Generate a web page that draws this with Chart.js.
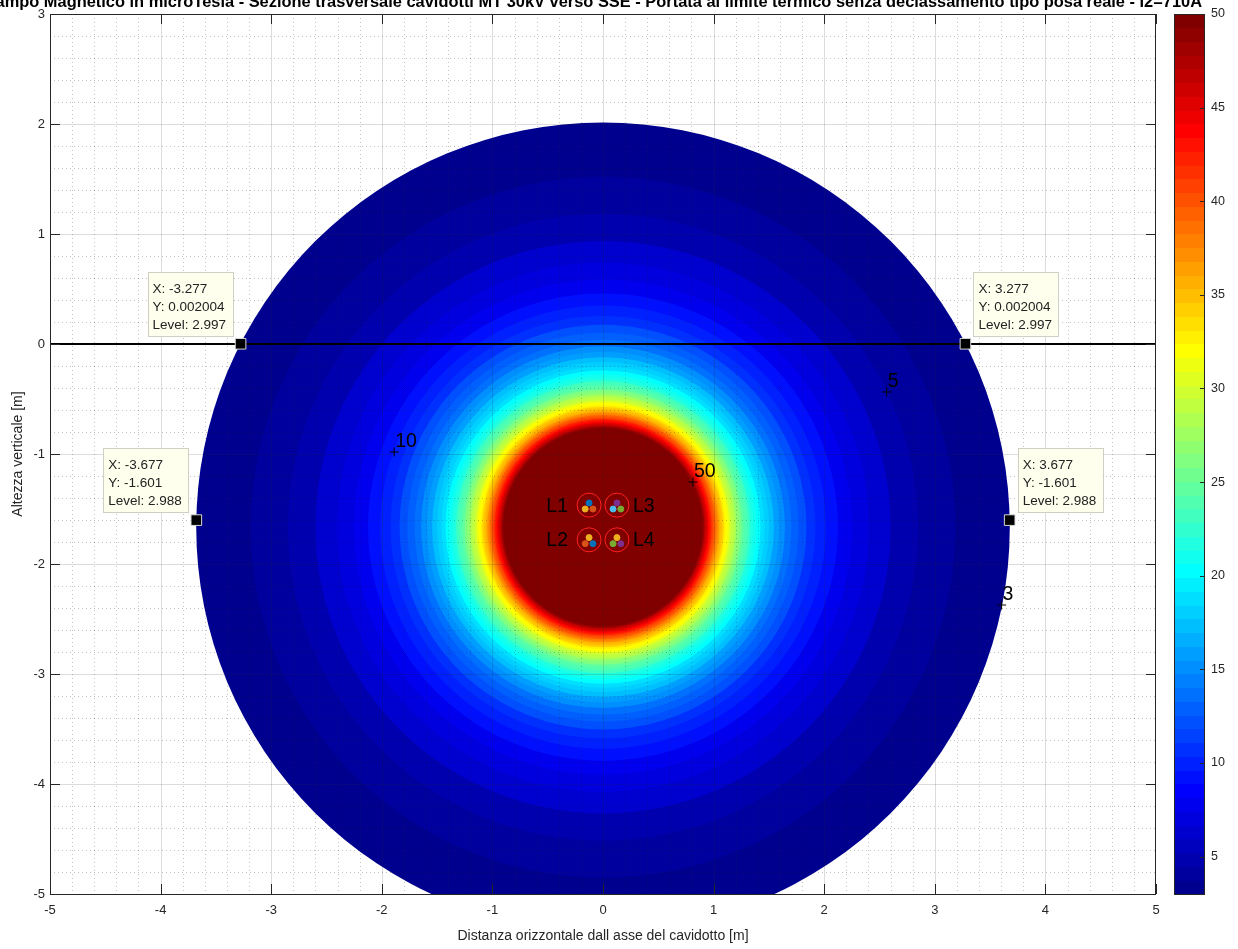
<!DOCTYPE html>
<html>
<head>
<meta charset="utf-8">
<script src="https://cdn.jsdelivr.net/npm/chart.js@4.4.1/dist/chart.umd.min.js"></script>
<style>
  html, body { margin: 0; padding: 0; background: #fff; overflow: hidden; }
  canvas { display: block; }
</style>
</head>
<body>
<canvas id="c" width="1238" height="949"></canvas>
<script>
// Filled contour levels of |B| (microtesla) and the radius (m) at which each level closes around the cable bundle
const levels = [3, 4, 5, 6, 7, 8, 9, 10, 11, 12, 13, 14, 15, 16, 17, 18, 19, 20, 21, 22, 23, 24, 25, 26,
  27, 28, 29, 30, 31, 32, 33, 34, 35, 36, 37, 38, 39, 40, 41, 42, 43, 44, 45, 46, 47, 48, 49, 50];
const levelRadius = [3.678, 3.185, 2.849, 2.601, 2.407, 2.252, 2.124, 2.014, 1.920, 1.839, 1.767, 1.703,
  1.645, 1.593, 1.545, 1.501, 1.461, 1.424, 1.390, 1.358, 1.328, 1.300, 1.274, 1.250,
  1.226, 1.204, 1.183, 1.163, 1.144, 1.126, 1.108, 1.092, 1.076, 1.061, 1.047, 1.033,
  1.020, 1.007, 0.995, 0.983, 0.971, 0.960, 0.950, 0.939, 0.929, 0.919, 0.910, 0.901];
const bundleCenterX = 0;
const bundleCenterY = -1.665;

// Axis ticks and colour scale
const xTicks = [-5, -4, -3, -2, -1, 0, 1, 2, 3, 4, 5];
const yTicks = [3, 2, 1, 0, -1, -2, -3, -4, -5];
const cbTicks = [5, 10, 15, 20, 25, 30, 35, 40, 45, 50];
const cbMin = 3;
const cbMax = 50;

// Cable circuits (centre of each trefoil) and the offsets of the three phase conductors
const cableNames = ['L1', 'L2', 'L3', 'L4'];
const cableX = [-0.126, -0.126, 0.126, 0.126];
const cableY = [-1.465, -1.78, -1.465, -1.78];
const phaseDX = [0, -0.035, 0.035];
const phaseDY = [0.02, -0.035, -0.035];

// Ground surface line
const groundX = [-5, 5];
const groundY = [0, 0];

// Data tips on the 3 uT contour
const tipX = [-3.277, 3.277, -3.677, 3.677];
const tipY = [0.002004, 0.002004, -1.601, -1.601];
const tipLevel = [2.997, 2.997, 2.988, 2.988];

// Contour labels
const contourLabelLevel = [10, 5, 50, 3];
const contourLabelX = [-1.888, 2.565, 0.813, 3.604];
const contourLabelY = [-0.982, -0.436, -1.255, -2.373];

const titleText = 'Campo Magnetico in microTesla - Sezione trasversale cavidotti MT 30kV verso SSE - Portata al limite termico senza declassamento tipo posa reale - I2=710A';
const xTitle = 'Distanza orizzontale dall asse del cavidotto [m]';
const yTitle = 'Altezza verticale [m]';

const FONT = '"Liberation Sans", Arial, Helvetica, sans-serif';
const AX = '#262626';
const NCOL = 64;
const phaseColors = [
  ['#0072BD', '#EDB120', '#D95319'],
  ['#EDB120', '#D95319', '#0072BD'],
  ['#7E2F8E', '#4DBEEE', '#77AC30'],
  ['#EDB120', '#77AC30', '#7E2F8E']
];

function jet(t) {
  const c = v => Math.round(255 * Math.min(1, Math.max(0, v)));
  return `rgb(${c(1.5 - Math.abs(4 * t - 3))},${c(1.5 - Math.abs(4 * t - 2))},${c(1.5 - Math.abs(4 * t - 1))})`;
}
function levelColor(v) {
  let idx = Math.floor((v - cbMin) / (cbMax - cbMin) * NCOL);
  idx = Math.min(NCOL - 1, Math.max(0, idx));
  return jet((idx + 1) / NCOL);
}

const conductorPts = [];
const conductorCols = [];
cableX.forEach((cx, i) => {
  phaseDX.forEach((dx, k) => {
    conductorPts.push({ x: cx + dx, y: cableY[i] + phaseDY[k] });
    conductorCols.push(phaseColors[i][k]);
  });
});

const contourPlugin = {
  id: 'contourFill',
  beforeDraw(chart) {
    const { ctx } = chart;
    ctx.save();
    ctx.fillStyle = '#fff';
    ctx.fillRect(0, 0, chart.width, chart.height);
    ctx.restore();
  },
  beforeDatasetsDraw(chart) {
    const { ctx, chartArea: a, scales: { x, y } } = chart;
    ctx.save();
    ctx.beginPath();
    ctx.rect(a.left, a.top, a.right - a.left, a.bottom - a.top);
    ctx.clip();
    const cx = x.getPixelForValue(bundleCenterX);
    const cy = y.getPixelForValue(bundleCenterY);
    levels.forEach((lv, i) => {
      const r = levelRadius[i];
      const rx = x.getPixelForValue(bundleCenterX + r) - cx;
      const ry = cy - y.getPixelForValue(bundleCenterY + r);
      ctx.beginPath();
      ctx.ellipse(cx, cy, rx, ry, 0, 0, Math.PI * 2);
      ctx.fillStyle = levelColor(lv);
      ctx.fill();
    });
    // minor dotted grid
    ctx.lineWidth = 1;
    ctx.setLineDash([1, 3]);
    ctx.strokeStyle = 'rgba(38,38,38,0.28)';
    for (let k = -25; k <= 25; k++) {
      if (k % 5 === 0) continue;
      const px = Math.round(x.getPixelForValue(k / 5)) + 0.5;
      ctx.beginPath(); ctx.moveTo(px, a.top); ctx.lineTo(px, a.bottom); ctx.stroke();
    }
    for (let k = -25; k <= 15; k++) {
      if (k % 5 === 0) continue;
      const py = Math.round(y.getPixelForValue(k / 5)) + 0.5;
      ctx.beginPath(); ctx.moveTo(a.left, py); ctx.lineTo(a.right, py); ctx.stroke();
    }
    // major grid
    ctx.setLineDash([]);
    ctx.strokeStyle = 'rgba(38,38,38,0.16)';
    xTicks.forEach(v => {
      const px = Math.round(x.getPixelForValue(v)) + 0.5;
      ctx.beginPath(); ctx.moveTo(px, a.top); ctx.lineTo(px, a.bottom); ctx.stroke();
    });
    yTicks.forEach(v => {
      const py = Math.round(y.getPixelForValue(v)) + 0.5;
      ctx.beginPath(); ctx.moveTo(a.left, py); ctx.lineTo(a.right, py); ctx.stroke();
    });
    ctx.restore();
  },
  afterDatasetsDraw(chart) {
    const { ctx, scales: { x, y } } = chart;
    ctx.save();
    // circuit names
    ctx.fillStyle = '#000';
    ctx.font = `19.5px ${FONT}`;
    ctx.textBaseline = 'middle';
    cableNames.forEach((name, i) => {
      const px = x.getPixelForValue(cableX[i]);
      const py = y.getPixelForValue(cableY[i]);
      if (cableX[i] < 0) { ctx.textAlign = 'right'; ctx.fillText(name, px - 21, py + 1); }
      else { ctx.textAlign = 'left'; ctx.fillText(name, px + 16, py + 1); }
    });
    // contour labels
    ctx.textAlign = 'left';
    ctx.textBaseline = 'alphabetic';
    contourLabelLevel.forEach((lv, i) => {
      const px = x.getPixelForValue(contourLabelX[i]);
      const py = y.getPixelForValue(contourLabelY[i]);
      ctx.fillText(String(lv), px + 1, py - 5);
    });
    // data tip boxes
    ctx.font = `13.5px ${FONT}`;
    tipX.forEach((vx, i) => {
      const px = x.getPixelForValue(vx);
      const py = y.getPixelForValue(tipY[i]);
      const lines = [`X: ${vx}`, `Y: ${tipY[i]}`, `Level: ${tipLevel[i]}`];
      const w = Math.ceil(Math.max(...lines.map(l => ctx.measureText(l).width))) + 11;
      const h = 64;
      const bx = vx < 0 ? px - 8 - w : px + 8;
      const by = py - 8 - h;
      ctx.fillStyle = '#ffffee';
      ctx.fillRect(bx, by, w, h);
      ctx.strokeStyle = '#cfcfc4';
      ctx.lineWidth = 1;
      ctx.strokeRect(Math.round(bx) + 0.5, Math.round(by) + 0.5, w, h);
      ctx.fillStyle = '#222';
      lines.forEach((l, k) => ctx.fillText(l, bx + 5, by + 21 + k * 18));
    });
    ctx.restore();
  },
  afterDraw(chart) {
    const { ctx, chartArea: a, scales: { x, y, cb } } = chart;
    ctx.save();
    // axes box and inward ticks
    ctx.strokeStyle = AX;
    ctx.lineWidth = 1;
    ctx.strokeRect(Math.round(a.left) + 0.5, Math.round(a.top) + 0.5, Math.round(a.right - a.left) - 1, Math.round(a.bottom - a.top));
    ctx.beginPath();
    xTicks.forEach(v => {
      const px = Math.round(x.getPixelForValue(v)) + 0.5;
      ctx.moveTo(px, a.bottom); ctx.lineTo(px, a.bottom - 10);
      ctx.moveTo(px, a.top); ctx.lineTo(px, a.top + 10);
    });
    yTicks.forEach(v => {
      const py = Math.round(y.getPixelForValue(v)) + 0.5;
      ctx.moveTo(a.left, py); ctx.lineTo(a.left + 10, py);
      ctx.moveTo(a.right, py); ctx.lineTo(a.right - 10, py);
    });
    ctx.stroke();

    // colour bar
    const cl = cb.left + 18, cr = cb.left + 49;
    for (let i = 0; i < NCOL; i++) {
      const v0 = cbMin + i * (cbMax - cbMin) / NCOL;
      const v1 = cbMin + (i + 1) * (cbMax - cbMin) / NCOL;
      const y0 = cb.getPixelForValue(v0), y1 = cb.getPixelForValue(v1);
      ctx.fillStyle = jet((i + 1) / NCOL);
      ctx.fillRect(cl, Math.floor(y1), cr - cl, Math.ceil(y0) - Math.floor(y1));
    }
    const ct = cb.getPixelForValue(cbMax), cbt = cb.getPixelForValue(cbMin);
    ctx.strokeStyle = AX;
    ctx.strokeRect(cl + 0.5, Math.round(ct) + 0.5, cr - cl - 1, Math.round(cbt - ct));
    ctx.beginPath();
    cbTicks.forEach(v => {
      const py = Math.round(cb.getPixelForValue(v)) + 0.5;
      ctx.moveTo(cr - 5, py); ctx.lineTo(cr, py);
    });
    ctx.stroke();

    // title (wider than the figure, right end beside the colour bar)
    ctx.font = `bold 16px ${FONT}`;
    const wTitle = ctx.measureText(titleText).width;
    const fs = 16 * 1220 / wTitle;
    ctx.font = `bold ${fs}px ${FONT}`;
    ctx.fillStyle = '#000';
    ctx.textAlign = 'right';
    ctx.textBaseline = 'alphabetic';
    ctx.fillText(titleText, cb.left + 46, 7);
    ctx.restore();
  }
};

new Chart(document.getElementById('c'), {
  type: 'scatter',
  data: {
    datasets: [
      {
        label: 'data tips',
        data: tipX.map((v, i) => ({ x: v, y: tipY[i] })),
        pointStyle: 'rect',
        pointRadius: 7.5,
        backgroundColor: '#000',
        borderColor: '#d8d8d8',
        borderWidth: 1
      },
      {
        label: 'contour label anchors',
        data: contourLabelX.map((v, i) => ({ x: v, y: contourLabelY[i] })),
        pointStyle: 'cross',
        pointRadius: 4.5,
        borderColor: '#000',
        borderWidth: 1
      },
      {
        label: 'conductors',
        data: conductorPts,
        pointStyle: 'circle',
        pointRadius: 3,
        backgroundColor: conductorCols,
        borderColor: conductorCols,
        borderWidth: 1
      },
      {
        label: 'circuits',
        data: cableX.map((v, i) => ({ x: v, y: cableY[i] })),
        pointStyle: 'circle',
        pointRadius: 12,
        backgroundColor: 'rgba(0,0,0,0)',
        borderColor: '#ff2020',
        borderWidth: 1
      },
      {
        type: 'line',
        label: 'ground',
        data: groundX.map((v, i) => ({ x: v, y: groundY[i] })),
        borderColor: '#000',
        borderWidth: 2,
        pointRadius: 0,
        fill: false
      }
    ]
  },
  options: {
    responsive: false,
    devicePixelRatio: 1,
    animation: false,
    events: [],
    layout: { padding: { top: 14, left: 0, right: 0, bottom: 0 } },
    plugins: { legend: { display: false }, tooltip: { enabled: false } },
    scales: {
      x: {
        type: 'linear', position: 'bottom', min: -5, max: 5,
        afterBuildTicks: s => { s.ticks = xTicks.map(v => ({ value: v })); },
        afterFit: s => { s.height = 55; },
        grid: { display: false, drawTicks: false },
        border: { display: false },
        ticks: { color: AX, font: { family: FONT, size: 13 }, padding: 9, maxRotation: 0, autoSkip: false },
        title: { display: true, text: xTitle, color: AX, font: { family: FONT, size: 14 }, padding: { top: 0, bottom: 4 } }
      },
      y: {
        type: 'linear', position: 'left', min: -5, max: 3,
        afterBuildTicks: s => { s.ticks = yTicks.map(v => ({ value: v })); },
        afterFit: s => { s.width = 50; },
        grid: { display: false, drawTicks: false },
        border: { display: false },
        ticks: { color: AX, font: { family: FONT, size: 13 }, padding: 5, autoSkip: false },
        title: { display: true, text: yTitle, color: AX, font: { family: FONT, size: 14 }, padding: { top: 10, bottom: 0 } }
      },
      cb: {
        type: 'linear', position: 'right', min: cbMin, max: cbMax,
        afterBuildTicks: s => { s.ticks = cbTicks.map(v => ({ value: v })); },
        afterFit: s => { s.width = 82; },
        grid: { display: false, drawTicks: true, tickLength: 52 },
        border: { display: false },
        ticks: { color: AX, font: { family: FONT, size: 12.5 }, padding: 3, autoSkip: false }
      }
    }
  },
  plugins: [contourPlugin]
});
</script>
</body>
</html>
